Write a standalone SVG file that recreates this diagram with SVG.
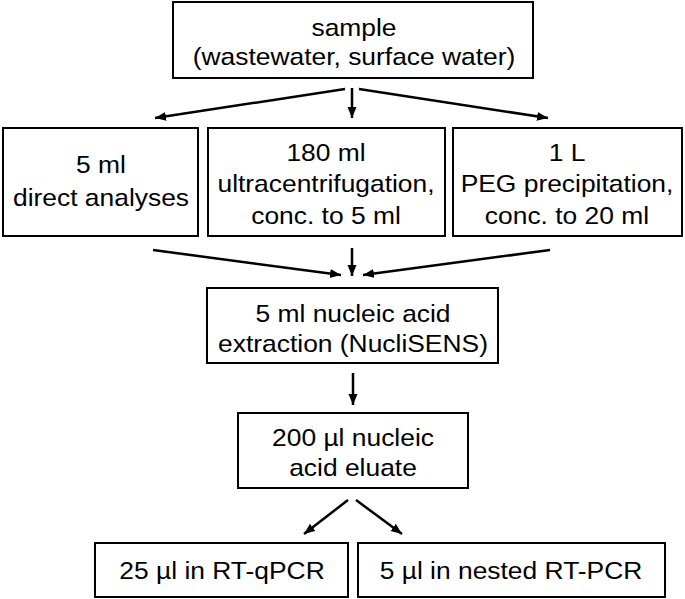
<svg xmlns="http://www.w3.org/2000/svg" width="685" height="599" viewBox="0 0 685 599">
<defs>
<style>
.box{fill:#fff;stroke:#000;stroke-width:2}
.t{font-family:"Liberation Sans",Arial,sans-serif;font-size:24px;fill:#000;text-anchor:middle}
.c{stroke:#000;stroke-width:2.5;fill:none;marker-end:url(#ah)}
</style>
<marker id="ah" markerUnits="userSpaceOnUse" markerWidth="12" markerHeight="10" refX="11" refY="5" orient="auto">
<path d="M0,0.5 L11,5 L0,9.5 z" fill="#000"/>
</marker>
</defs>
<rect width="685" height="599" fill="#fff"/>
<g id="sample">
<rect class="box" x="173" y="2" width="360" height="76"/>
<g transform="translate(354,0) scale(1.1,1)"><text class="t" x="0" y="36">sample</text><text class="t" x="0" y="65">(wastewater, surface water)</text></g>
</g>
<g id="direct">
<rect class="box" x="3" y="128" width="195" height="108"/>
<g transform="translate(101,0) scale(1.1,1)"><text class="t" x="0" y="173">5 ml</text><text class="t" x="0" y="206">direct analyses</text></g>
</g>
<g id="ultra">
<rect class="box" x="208" y="128" width="237" height="108"/>
<g transform="translate(326,0) scale(1.1,1)"><text class="t" x="0" y="161">180 ml</text><text class="t" x="0" y="192">ultracentrifugation,</text><text class="t" x="0" y="224">conc. to 5 ml</text></g>
</g>
<g id="peg">
<rect class="box" x="453" y="128" width="229" height="108"/>
<g transform="translate(567,0) scale(1.1,1)"><text class="t" x="0" y="161">1 L</text><text class="t" x="0" y="192">PEG precipitation,</text><text class="t" x="0" y="224">conc. to 20 ml</text></g>
</g>
<g id="extraction">
<rect class="box" x="207" y="288" width="291" height="75"/>
<g transform="translate(353,0) scale(1.1,1)"><text class="t" x="0" y="322">5 ml nucleic acid</text><text class="t" x="0" y="352">extraction (NucliSENS)</text></g>
</g>
<g id="eluate">
<rect class="box" x="238" y="413" width="230" height="75"/>
<g transform="translate(353,0) scale(1.1,1)"><text class="t" x="0" y="446">200 µl nucleic</text><text class="t" x="0" y="476">acid eluate</text></g>
</g>
<g id="rtqpcr">
<rect class="box" x="95" y="543" width="253" height="54"/>
<g transform="translate(222,0) scale(1.1,1)"><text class="t" x="0" y="579">25 µl in RT-qPCR</text></g>
</g>
<g id="nested">
<rect class="box" x="358" y="543" width="307" height="54"/>
<g transform="translate(511,0) scale(1.1,1)"><text class="t" x="0" y="579">5 µl in nested RT-PCR</text></g>
</g>
<g id="connectors">
<line class="c" x1="345" y1="89" x2="155" y2="118"/>
<line class="c" x1="352" y1="88" x2="352" y2="118"/>
<line class="c" x1="359" y1="89" x2="548" y2="118"/>
<line class="c" x1="153" y1="250" x2="341" y2="275"/>
<line class="c" x1="352" y1="248" x2="352" y2="276"/>
<line class="c" x1="550" y1="250" x2="363" y2="275"/>
<line class="c" x1="353" y1="373" x2="353" y2="405"/>
<line class="c" x1="348" y1="500" x2="304" y2="534"/>
<line class="c" x1="356" y1="500" x2="402" y2="534"/>
</g>
</svg>
